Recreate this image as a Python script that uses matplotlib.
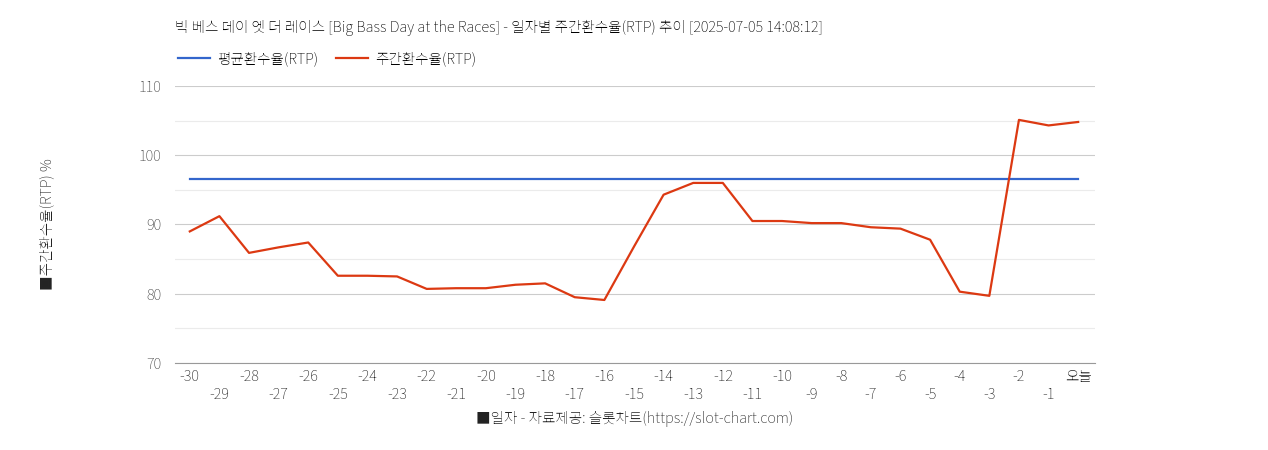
import matplotlib
matplotlib.use("Agg")
import matplotlib.pyplot as plt
from matplotlib import font_manager as fm

cjk = None
for f in fm.findSystemFonts():
    if "NotoSansCJK" in f.replace(" ", "") or "NotoSansKR" in f or "CJK" in f:
        try:
            fm.fontManager.addfont(f)
            name = fm.FontProperties(fname=f).get_name()
            if cjk is None or "KR" in name:
                cjk = name
        except Exception:
            pass
plt.rcParams["font.family"] = [cjk or "Noto Sans CJK KR", "DejaVu Sans"]

days = list(range(-30, 1))
rtp = [89.0, 91.2, 85.9, 86.7, 87.4, 82.6, 82.6, 82.5, 80.7, 80.8, 80.8, 81.3, 81.5, 79.5, 79.1,
       86.8, 94.3, 96.0, 96.0, 90.5, 90.5, 90.2, 90.2, 89.6, 89.4, 87.8, 80.3, 79.7, 105.1, 104.3, 104.8]
avg = [96.5] * len(days)
labels = [("오늘" if d == 0 else str(d)) for d in days]

fig = plt.figure(figsize=(12.68, 4.5), dpi=100)
ax = fig.add_axes([0.138, 0.1933, 0.7256, 0.6157])
ax.plot(days, avg, color="#3366cc", lw=1.6, label="평균환수율(RTP)")
ax.plot(days, rtp, color="#dc3912", lw=1.6, label="주간환수율(RTP)")
ax.set_xlim(-30.5, 0.57)
ax.set_ylim(70, 110)
ax.set_yticks([70, 80, 90, 100, 110])
ax.set_yticks([75, 85, 95, 105], minor=True)
ax.grid(axis="y", which="major", color="#cccccc", lw=0.8)
ax.grid(axis="y", which="minor", color="#ebebeb", lw=0.8)
ax.tick_params(axis="y", which="both", length=0, labelsize=10.5, colors="#444444", pad=10)
ax.set_xticks(days)
ax.set_xticklabels([l if i % 2 == 0 else "\n" + l for i, l in enumerate(labels)], fontsize=10.5, color="#222222")
ax.tick_params(axis="x", length=0, pad=4)
for s in ["top", "right", "left"]:
    ax.spines[s].set_visible(False)
ax.spines["bottom"].set_color("#999999")
ax.set_axisbelow(True)
ax.set_ylabel("■주간환수율(RTP) %", fontsize=10.5, style="italic", color="#222222", labelpad=60)
ax.set_xlabel("■일자 - 자료제공: 슬롯차트(https://slot-chart.com)", fontsize=10.5, style="italic", color="#222222", labelpad=6)
fig.text(0.138, 0.92, "빅 베스 데이 엣 더 레이스 [Big Bass Day at the Races] - 일자별 주간환수율(RTP) 추이 [2025-07-05 14:08:12]",
         fontsize=10.5, fontweight="bold", va="bottom")
fig.legend(loc="upper left", bbox_to_anchor=(0.13, 0.915), ncol=2, frameon=False, fontsize=10.5,
           handlelength=2.2, columnspacing=1.2, handletextpad=0.5)
fig.savefig("out.png", dpi=100)
